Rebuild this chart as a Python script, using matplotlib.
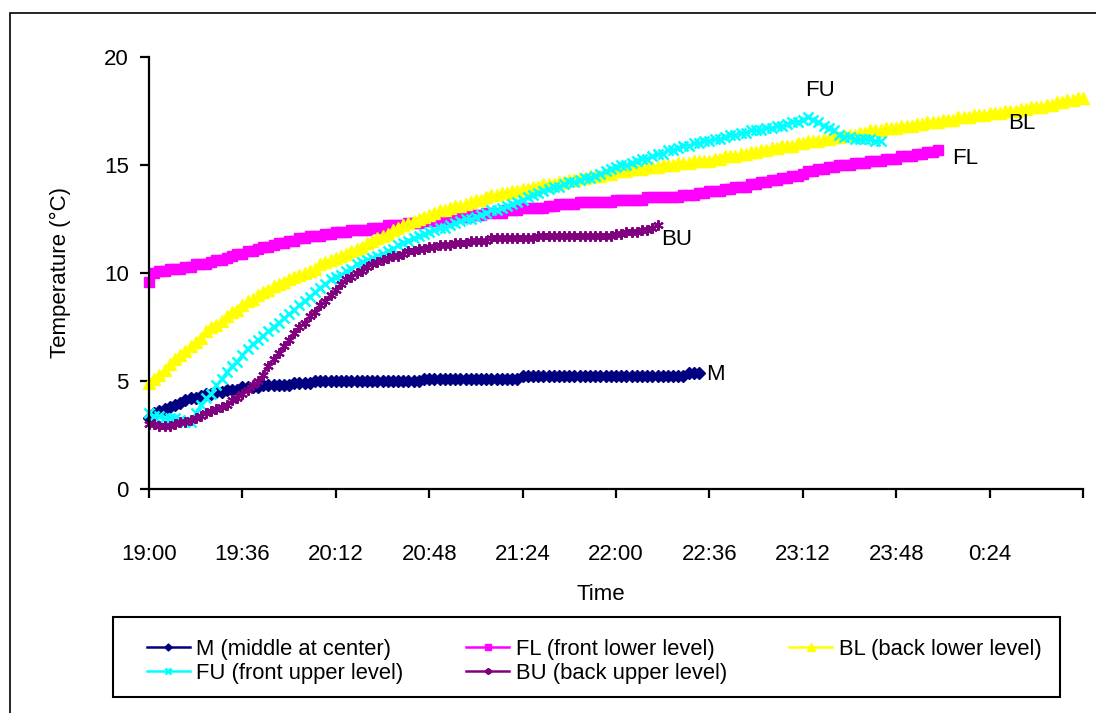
import numpy as np
import matplotlib.pyplot as plt
from matplotlib.patches import Rectangle

plt.rcParams["font.family"] = ["Liberation Sans", "DejaVu Sans"]

# Logger readings every 2 minutes, starting at 19:00
STEP = 2

m_temp = [
    3.3, 3.5, 3.6, 3.7, 3.8, 3.9, 4.0, 4.1, 4.2, 4.2,
    4.3, 4.4, 4.4, 4.5, 4.5, 4.6, 4.6, 4.6, 4.7, 4.7,
    4.7, 4.7, 4.8, 4.8, 4.8, 4.8, 4.8, 4.8, 4.9, 4.9,
    4.9, 4.9, 5.0, 5.0, 5.0, 5.0, 5.0, 5.0, 5.0, 5.0,
    5.0, 5.0, 5.0, 5.0, 5.0, 5.0, 5.0, 5.0, 5.0, 5.0,
    5.0, 5.0, 5.0, 5.1, 5.1, 5.1, 5.1, 5.1, 5.1, 5.1,
    5.1, 5.1, 5.1, 5.1, 5.1, 5.1, 5.1, 5.1, 5.1, 5.1,
    5.1, 5.1, 5.25, 5.25, 5.25, 5.25, 5.25, 5.25, 5.25, 5.25,
    5.25, 5.25, 5.25, 5.25, 5.25, 5.25, 5.25, 5.25, 5.25, 5.25,
    5.25, 5.25, 5.25, 5.25, 5.25, 5.25, 5.25, 5.25, 5.25, 5.25,
    5.25, 5.25, 5.25, 5.25, 5.35, 5.35, 5.35,
]

fl_temp = [
    9.6, 10.0, 10.1, 10.1, 10.2, 10.2, 10.2, 10.3, 10.3, 10.4,
    10.4, 10.4, 10.5, 10.6, 10.6, 10.7, 10.8, 10.9, 10.9, 11.0,
    11.0, 11.1, 11.2, 11.2, 11.3, 11.4, 11.4, 11.5, 11.5, 11.6,
    11.6, 11.7, 11.7, 11.7, 11.8, 11.8, 11.9, 11.9, 11.9, 12.0,
    12.0, 12.0, 12.0, 12.1, 12.1, 12.1, 12.2, 12.2, 12.2, 12.2,
    12.3, 12.3, 12.3, 12.4, 12.4, 12.4, 12.5, 12.5, 12.5, 12.6,
    12.6, 12.6, 12.7, 12.7, 12.7, 12.8, 12.8, 12.8, 12.8, 12.9,
    12.9, 12.9, 13.0, 13.0, 13.0, 13.0, 13.0, 13.1, 13.1, 13.2,
    13.2, 13.2, 13.2, 13.3, 13.3, 13.3, 13.3, 13.3, 13.3, 13.3,
    13.4, 13.4, 13.4, 13.4, 13.4, 13.4, 13.5, 13.5, 13.5, 13.5,
    13.5, 13.5, 13.5, 13.6, 13.6, 13.6, 13.7, 13.7, 13.8, 13.8,
    13.8, 13.9, 13.9, 14.0, 14.0, 14.0, 14.1, 14.1, 14.2, 14.2,
    14.3, 14.3, 14.4, 14.4, 14.5, 14.5, 14.6, 14.7, 14.7, 14.8,
    14.8, 14.9, 14.9, 15.0, 15.0, 15.0, 15.1, 15.1, 15.1, 15.2,
    15.2, 15.2, 15.3, 15.3, 15.3, 15.4, 15.4, 15.4, 15.5, 15.5,
    15.6, 15.6, 15.7,
]

bl_temp = [
    4.9, 5.1, 5.3, 5.5, 5.8, 6.0, 6.2, 6.4, 6.6, 6.8,
    7.0, 7.3, 7.5, 7.6, 7.8, 8.0, 8.2, 8.3, 8.5, 8.7,
    8.8, 9.0, 9.1, 9.2, 9.4, 9.5, 9.6, 9.7, 9.8, 9.9,
    10.0, 10.1, 10.2, 10.4, 10.5, 10.6, 10.7, 10.8, 10.9, 11.0,
    11.1, 11.2, 11.4, 11.5, 11.6, 11.7, 11.8, 12.0, 12.1, 12.2,
    12.3, 12.4, 12.5, 12.6, 12.7, 12.8, 12.9, 12.9, 13.0, 13.1,
    13.1, 13.2, 13.3, 13.4, 13.4, 13.5, 13.6, 13.6, 13.7, 13.7,
    13.8, 13.8, 13.9, 13.9, 14.0, 14.0, 14.1, 14.1, 14.1, 14.2,
    14.2, 14.3, 14.3, 14.4, 14.4, 14.5, 14.5, 14.5, 14.6, 14.6,
    14.7, 14.7, 14.7, 14.8, 14.8, 14.8, 14.9, 14.9, 14.9, 15.0,
    15.0, 15.0, 15.1, 15.1, 15.1, 15.2, 15.2, 15.2, 15.2, 15.3,
    15.3, 15.4, 15.4, 15.4, 15.5, 15.5, 15.6, 15.6, 15.7, 15.7,
    15.8, 15.8, 15.9, 15.9, 15.9, 16.0, 16.0, 16.1, 16.1, 16.1,
    16.2, 16.2, 16.3, 16.3, 16.4, 16.4, 16.4, 16.5, 16.5, 16.6,
    16.6, 16.6, 16.7, 16.7, 16.7, 16.8, 16.8, 16.8, 16.9, 16.9,
    17.0, 17.0, 17.0, 17.1, 17.1, 17.1, 17.2, 17.2, 17.2, 17.3,
    17.3, 17.3, 17.4, 17.4, 17.4, 17.5, 17.5, 17.5, 17.6, 17.6,
    17.7, 17.7, 17.7, 17.8, 17.8, 17.9, 17.9, 18.0, 18.0, 18.1,
    18.1,
]

fu_temp = [
    3.5, 3.4, 3.4, 3.3, 3.3, 3.3, 3.2, 3.1, 3.1, 3.5,
    3.9, 4.2, 4.4, 4.8, 5.1, 5.4, 5.7, 5.9, 6.2, 6.5,
    6.7, 6.9, 7.1, 7.3, 7.5, 7.7, 7.9, 8.1, 8.3, 8.5,
    8.7, 8.9, 9.1, 9.3, 9.5, 9.7, 9.8, 9.9, 10.1, 10.2,
    10.4, 10.5, 10.6, 10.7, 10.8, 10.9, 11.0, 11.1, 11.3, 11.4,
    11.5, 11.6, 11.7, 11.8, 11.9, 12.0, 12.1, 12.1, 12.2, 12.3,
    12.4, 12.5, 12.5, 12.6, 12.7, 12.8, 12.9, 12.9, 13.0, 13.1,
    13.2, 13.3, 13.4, 13.5, 13.6, 13.7, 13.8, 13.9, 14.0, 14.0,
    14.1, 14.2, 14.2, 14.3, 14.4, 14.4, 14.5, 14.6, 14.7, 14.8,
    14.9, 15.0, 15.0, 15.1, 15.2, 15.3, 15.3, 15.4, 15.5, 15.5,
    15.7, 15.7, 15.8, 15.9, 15.9, 16.0, 16.0, 16.1, 16.1, 16.2,
    16.2, 16.3, 16.4, 16.4, 16.5, 16.5, 16.6, 16.6, 16.6, 16.7,
    16.7, 16.8, 16.8, 16.9, 17.0, 17.0, 17.1, 17.2, 17.1, 17.0,
    16.8, 16.7, 16.6, 16.4, 16.3, 16.3, 16.2, 16.2, 16.2, 16.2,
    16.1, 16.1,
]

bu_temp = [
    3.0, 3.0, 2.9, 2.9, 2.9, 3.0, 3.1, 3.1, 3.2, 3.3,
    3.4, 3.5, 3.6, 3.7, 3.8, 3.9, 4.1, 4.2, 4.4, 4.6,
    4.8, 5.0, 5.3, 5.7, 6.0, 6.3, 6.6, 6.9, 7.2, 7.5,
    7.7, 8.0, 8.2, 8.5, 8.7, 9.0, 9.2, 9.5, 9.7, 9.8,
    10.0, 10.1, 10.3, 10.4, 10.5, 10.6, 10.7, 10.8, 10.8, 10.9,
    11.0, 11.0, 11.1, 11.1, 11.2, 11.2, 11.3, 11.3, 11.3, 11.4,
    11.4, 11.4, 11.5, 11.5, 11.5, 11.5, 11.6, 11.6, 11.6, 11.6,
    11.6, 11.6, 11.6, 11.6, 11.6, 11.7, 11.7, 11.7, 11.7, 11.7,
    11.7, 11.7, 11.7, 11.7, 11.7, 11.7, 11.7, 11.7, 11.7, 11.7,
    11.8, 11.8, 11.9, 11.9, 11.9, 12.0, 12.0, 12.1, 12.2,
]

tick_minutes = [0, 36, 72, 108, 144, 180, 216, 252, 288, 324, 360]
tick_labels = ["19:00", "19:36", "20:12", "20:48", "21:24", "22:00",
               "22:36", "23:12", "23:48", "0:24", ""]

W, H = 1096, 713
fig = plt.figure(figsize=(W / 100, H / 100), dpi=100)
ax = fig.add_axes([149 / W, 1 - 489 / H, (1083 - 149) / W, (489 - 57) / H])

FS = 16

series = [
    ("M (middle at center)", m_temp, "#000080", "D", 6.0, 1.0),
    ("FL (front lower level)", fl_temp, "#FF00FF", "s", 7.0, 1.0),
    ("BL (back lower level)", bl_temp, "#FFFF00", "^", 8.5, 1.0),
    ("FU (front upper level)", fu_temp, "#00FFFF", "x", 7.0, 1.8),
    ("BU (back upper level)", bu_temp, "#800080", (6, 2, 0), 7.5, 1.5),
]

handles = {}
for label, temp, color, marker, ms, mew in series:
    t = np.arange(len(temp)) * STEP
    line, = ax.plot(t, temp, color=color, lw=1.8, marker=marker, ms=ms,
                    mew=mew, mec=color, mfc=color, clip_on=False, label=label)
    handles[label[:2].strip()] = line

# series names written next to the curves
ax.text(258.7, 18.47, "FU", fontsize=FS, ha="center", va="center")
ax.text(314.6, 15.32, "FL", fontsize=FS, ha="center", va="center")
ax.text(336.5, 16.90, "BL", fontsize=FS, ha="center", va="center")
ax.text(203.5, 11.53, "BU", fontsize=FS, ha="center", va="center")
ax.text(218.2, 5.28, "M", fontsize=FS, ha="center", va="center")

ax.set_xlim(0, 360)
ax.set_ylim(0, 20)
ax.set_xticks(tick_minutes)
ax.set_xticklabels(tick_labels)
ax.set_yticks([0, 5, 10, 15, 20])

for side in ["top", "right"]:
    ax.spines[side].set_visible(False)
for side in ["left", "bottom"]:
    ax.spines[side].set_linewidth(1.6)

ax.tick_params(axis="x", direction="out", length=6.5, width=1.6, pad=33, labelsize=FS)
ax.tick_params(axis="y", direction="out", length=6.5, width=1.6, pad=8, labelsize=FS)
ax.set_xlabel("Time", fontsize=FS)
ax.xaxis.set_label_coords((601 - 149) / 934, (489 - 584) / 432)
ax.set_ylabel("Temperature (°C)", fontsize=FS, labelpad=24)

# legend laid out row by row: M, FL, BL / FU, BU
order = ["M", "FU", "FL", "BU", "BL"]
leg_handles = [handles[k] for k in order]
leg_labels = [h.get_label() for h in leg_handles]
leg = fig.legend(leg_handles, leg_labels, loc="upper left",
                 bbox_to_anchor=(147 / W, 1 - 639 / H), ncol=3, frameon=False,
                 fontsize=15.8, borderpad=0, borderaxespad=0, handlelength=1.95,
                 handletextpad=0.3, columnspacing=2.85, labelspacing=0.13,
                 markerscale=0.6)

fig.add_artist(Rectangle((113 / W, 1 - 697 / H), 947 / W, 80 / H,
                         transform=fig.transFigure, fill=False,
                         edgecolor="black", lw=1.5))

# outer chart frame
fig.add_artist(Rectangle((10 / W, -0.05), 1.2, 1 - 13 / H + 0.05,
                         transform=fig.transFigure, fill=False,
                         edgecolor="black", lw=1.2))

fig.savefig("out.png", dpi=100)
